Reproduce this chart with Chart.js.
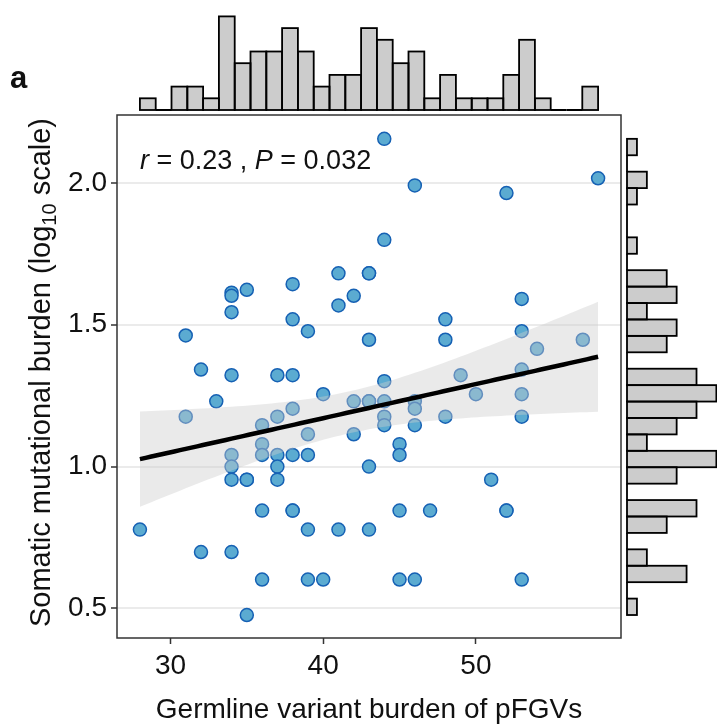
<!DOCTYPE html>
<html>
<head>
<meta charset="utf-8">
<script src="https://cdn.jsdelivr.net/npm/chart.js@4.4.1/dist/chart.umd.min.js"></script>
<style>
  html, body { margin: 0; padding: 0; background: #fff; }
  #wrap { position: relative; width: 717px; height: 727px; overflow: hidden; }
  canvas { position: absolute; }
</style>
</head>
<body>
<div id="wrap">
  <canvas id="mainChart" width="717" height="727" style="left:0;top:0"></canvas>
  <canvas id="topHist" width="504" height="113" style="left:117px;top:0"></canvas>
  <canvas id="rightHist" width="94" height="523" style="left:623px;top:115px"></canvas>
</div>
<script>
// ---- data ---------------------------------------------------------------
// germline variant burden (pFGVs) per sample
const burdenX = [
  28, 31, 31, 32, 32, 33, 34, 34, 34, 34, 34, 34, 34, 34,
  35, 35, 35, 35, 36, 36, 36, 36, 36, 37, 37, 37, 37, 37,
  38, 38, 38, 38, 38, 38, 38, 39, 39, 39, 39, 39, 40, 40,
  41, 41, 41, 42, 42, 42, 43, 43, 43, 43, 43, 43, 43,
  44, 44, 44, 44, 44, 44, 45, 45, 45, 45, 46, 46, 46, 46, 46,
  47, 48, 48, 48, 49, 50, 51, 52, 52, 52, 53, 53, 53, 53, 53, 53,
  54, 57, 58
];
// somatic mutational burden, log10
const mutationY = [
  0.778, 1.462, 1.176, 1.342, 0.699, 1.230, 1.613, 1.602, 1.544, 1.322, 1.041, 1.000, 0.954, 0.699,
  1.623, 0.954, 0.954, 0.477, 1.146, 1.079, 1.041, 0.845, 0.602, 1.322, 1.176, 1.041, 1.000, 0.954,
  1.643, 1.519, 1.322, 1.204, 1.041, 0.845, 0.845, 1.477, 1.114, 1.041, 0.778, 0.602, 1.255, 0.602,
  1.681, 1.568, 0.778, 1.602, 1.230, 1.114, 1.681, 1.681, 1.447, 1.230, 1.230, 1.000, 0.778,
  2.155, 1.799, 1.301, 1.230, 1.176, 1.146, 1.079, 1.041, 0.845, 0.602, 1.991, 1.230, 1.204, 1.146, 0.602,
  0.845, 1.519, 1.447, 1.176, 1.322, 1.255, 0.954, 1.964, 0.845, 0.845, 1.591, 1.477, 1.342, 1.255, 1.176, 0.602,
  1.415, 1.447, 2.016
];

// marginal histograms (29 bins each)
const xBinStart = 28;
const xBinWidth = 30 / 29;
const xCounts = [1, 0, 2, 2, 1, 8, 4, 5, 5, 7, 5, 2, 3, 3, 7, 6, 4, 5, 1, 3, 1, 1, 1, 3, 6, 1, 0, 0, 2];
const yBinStart = 0.477;
const yBinWidth = (2.155 - 0.477) / 29;
const yCounts = [1, 0, 6, 2, 0, 4, 7, 0, 5, 9, 2, 5, 7, 9, 7, 0, 4, 5, 2, 5, 4, 0, 1, 0, 0, 1, 2, 0, 1];

const xTicks = [30, 40, 50];
const yTicks = [0.5, 1.0, 1.5, 2.0];
const xRange = [26.5, 59.5];
const yRange = [0.396, 2.239];

const corText = { r: "0.23", p: "0.032" };
const xTitle = "Germline variant burden of pFGVs";
const panelTag = "a";

// ---- linear fit + 95% CI (geom_smooth, method = "lm") -------------------
function linearFit(xs, ys) {
  const n = xs.length;
  const mx = xs.reduce((a, b) => a + b, 0) / n;
  const my = ys.reduce((a, b) => a + b, 0) / n;
  let sxx = 0, sxy = 0;
  for (let i = 0; i < n; i++) {
    sxx += (xs[i] - mx) ** 2;
    sxy += (xs[i] - mx) * (ys[i] - my);
  }
  const slope = sxy / sxx;
  const icpt = my - slope * mx;
  let sse = 0;
  for (let i = 0; i < n; i++) sse += (ys[i] - icpt - slope * xs[i]) ** 2;
  const s = Math.sqrt(sse / (n - 2));
  return { n, mx, sxx, slope, icpt, s };
}

const fit = linearFit(burdenX, mutationY);
const tCrit = 1.9876; // qt(0.975, 87)
const xMin = Math.min(...burdenX), xMax = Math.max(...burdenX);
const fitLine = [], ciLow = [], ciHigh = [];
for (let i = 0; i <= 80; i++) {
  const x = xMin + (xMax - xMin) * i / 80;
  const yhat = fit.icpt + fit.slope * x;
  const se = fit.s * Math.sqrt(1 / fit.n + (x - fit.mx) ** 2 / fit.sxx);
  fitLine.push({ x, y: yhat });
  ciLow.push({ x, y: yhat - tCrit * se });
  ciHigh.push({ x, y: yhat + tCrit * se });
}

// ---- shared style -------------------------------------------------------
const FONT = "'Liberation Sans', Arial, Helvetica, sans-serif";
const INK = "#111111";

// ---- main scatter -------------------------------------------------------
const panelPlugin = {
  id: "panelDecor",
  afterDraw(chart) {
    const { ctx, chartArea: a } = chart;
    ctx.save();
    // panel border
    ctx.strokeStyle = "#333333";
    ctx.lineWidth = 1.5;
    ctx.strokeRect(a.left, a.top, a.right - a.left, a.bottom - a.top);

    ctx.fillStyle = INK;
    ctx.textBaseline = "alphabetic";

    // x title
    ctx.font = `28px ${FONT}`;
    ctx.textAlign = "center";
    ctx.fillText(xTitle, (a.left + a.right) / 2, 718);

    // y title with subscript
    const big = `29px ${FONT}`, small = `20px ${FONT}`;
    const parts = [
      { t: "Somatic mutational burden (log", f: big, dy: 0 },
      { t: "10", f: small, dy: 6 },
      { t: " scale)", f: big, dy: 0 }
    ];
    let total = 0;
    parts.forEach(p => { ctx.font = p.f; p.w = ctx.measureText(p.t).width; total += p.w; });
    ctx.translate(50, (a.top + a.bottom) / 2 - 4);
    ctx.rotate(-Math.PI / 2);
    ctx.textAlign = "left";
    let cx = -total / 2;
    parts.forEach(p => { ctx.font = p.f; ctx.fillText(p.t, cx, p.dy); cx += p.w; });
    ctx.setTransform(1, 0, 0, 1, 0, 0);

    // correlation label
    const segs = [
      { t: "r", it: true }, { t: " = " + corText.r + " , " }, { t: "P", it: true }, { t: " = " + corText.p }
    ];
    let lx = 140;
    segs.forEach(s => {
      ctx.font = (s.it ? "italic " : "") + `27px ${FONT}`;
      ctx.textAlign = "left";
      ctx.fillText(s.t, lx, 169);
      lx += ctx.measureText(s.t).width;
    });

    // panel tag
    ctx.font = `bold 31px ${FONT}`;
    ctx.fillText(panelTag, 10, 88);
    ctx.restore();
  }
};

new Chart(document.getElementById("mainChart"), {
  type: "scatter",
  data: {
    datasets: [
      {
        label: "fit",
        type: "line",
        data: fitLine,
        borderColor: "#000000",
        borderWidth: 4.5,
        pointRadius: 0,
        fill: false,
        order: 1
      },
      {
        label: "ciLow",
        type: "line",
        data: ciLow,
        borderWidth: 0,
        pointRadius: 0,
        fill: false,
        order: 2
      },
      {
        label: "ciHigh",
        type: "line",
        data: ciHigh,
        borderWidth: 0,
        pointRadius: 0,
        fill: "-1",
        backgroundColor: "rgba(205,205,205,0.42)",
        order: 2
      },
      {
        label: "samples",
        data: burdenX.map((x, i) => ({ x, y: mutationY[i] })),
        backgroundColor: "#5BABD1",
        borderColor: "#1661B4",
        borderWidth: 1.5,
        pointRadius: 6.5,
        order: 3
      }
    ]
  },
  options: {
    responsive: false,
    animation: false,
    events: [],
    layout: { padding: { left: 0, top: 115, right: 96, bottom: 0 } },
    plugins: { legend: { display: false }, tooltip: { enabled: false } },
    scales: {
      x: {
        type: "linear",
        min: xRange[0],
        max: xRange[1],
        afterBuildTicks: s => { s.ticks = xTicks.map(v => ({ value: v })); },
        afterFit: s => { s.height = 89; },
        border: { display: false },
        grid: { drawOnChartArea: false, tickLength: 6, tickColor: "#333333", tickWidth: 1.5 },
        ticks: { color: INK, padding: 5, font: { family: FONT, size: 28 }, maxRotation: 0 }
      },
      y: {
        type: "linear",
        min: yRange[0],
        max: yRange[1],
        afterBuildTicks: s => { s.ticks = yTicks.map(v => ({ value: v })); },
        afterFit: s => { s.width = 117; },
        border: { display: false },
        grid: { color: "#EBEBEB", lineWidth: 2, tickLength: 6, tickColor: "#333333", tickWidth: 1.5 },
        ticks: { color: INK, padding: 4, font: { family: FONT, size: 28 }, callback: v => v.toFixed(1) }
      }
    }
  },
  plugins: [panelPlugin]
});

// ---- marginal histograms -----------------------------------------------
// outline each bar with a centred stroke, the way ggplot draws histogram bins
const outlinePlugin = {
  id: "binOutline",
  afterDatasetsDraw(chart) {
    const { ctx } = chart;
    const horiz = chart.options.indexAxis === "y";
    ctx.save();
    ctx.strokeStyle = "#000000";
    ctx.lineWidth = 1.8;
    chart.getDatasetMeta(0).data.forEach(bar => {
      const p = bar.getProps(["x", "y", "base", "width", "height"], true);
      if (horiz) {
        ctx.strokeRect(p.base, p.y - p.height / 2, p.x - p.base, p.height);
      } else {
        ctx.strokeRect(p.x - p.width / 2, p.y, p.width, p.base - p.y);
      }
    });
    ctx.restore();
  }
};

const histCommon = {
  responsive: false,
  animation: false,
  events: [],
  layout: { padding: 0 },
  plugins: { legend: { display: false }, tooltip: { enabled: false } }
};

new Chart(document.getElementById("topHist"), {
  type: "bar",
  data: {
    datasets: [{
      data: xCounts.map((c, i) => ({ x: xBinStart + (i + 0.5) * xBinWidth, y: c })),
      backgroundColor: "#CCCCCC",
      borderWidth: 0,
      barPercentage: 1,
      categoryPercentage: 1
    }]
  },
  options: {
    ...histCommon,
    scales: {
      x: { type: "linear", offset: false, min: xRange[0], max: xRange[1], display: false },
      y: { type: "linear", min: -3 / 11.7, max: 110 / 11.7, display: false }
    }
  },
  plugins: [outlinePlugin]
});

new Chart(document.getElementById("rightHist"), {
  type: "bar",
  data: {
    datasets: [{
      data: yCounts.map((c, i) => ({ y: yBinStart + (i + 0.5) * yBinWidth, x: c })),
      backgroundColor: "#CCCCCC",
      borderWidth: 0,
      barPercentage: 1,
      categoryPercentage: 1
    }]
  },
  options: {
    ...histCommon,
    indexAxis: "y",
    scales: {
      y: { type: "linear", offset: false, min: yRange[0], max: yRange[1], display: false },
      x: { type: "linear", min: -4 / 9.93, max: 90 / 9.93, display: false }
    }
  },
  plugins: [outlinePlugin]
});
</script>
</body>
</html>
